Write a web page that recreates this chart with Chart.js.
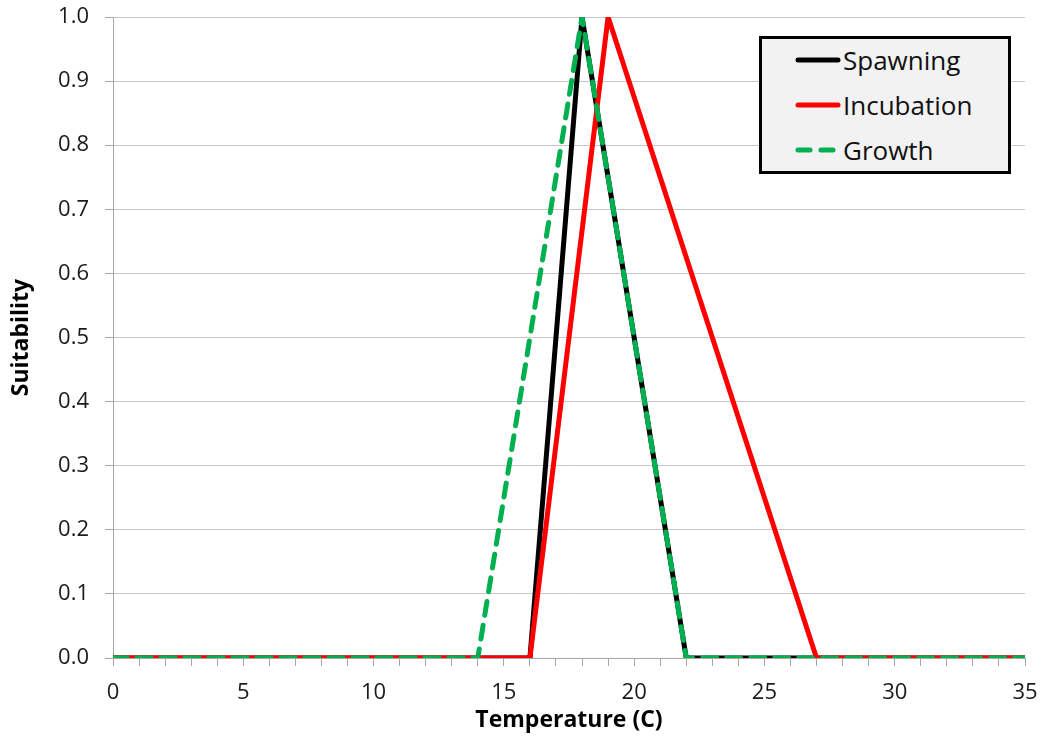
<!DOCTYPE html>
<html>
<head>
<meta charset="utf-8">
<script src="https://cdn.jsdelivr.net/npm/chart.js@4"></script>
<style>
    body { margin: 0; background: #fff; }
    #wrap { position: relative; width: 1042px; height: 744px; }
    #legend {
        position: absolute; left: 759px; top: 36px; width: 246px; height: 132px;
        background: #f2f2f2; border: 3px solid #000; box-sizing: content-box;
        font-family: 'Open Sans', sans-serif; font-size: 26px; color: #111;
    }
    .row { position: absolute; left: 33px; height: 30px; display: flex; align-items: center; }
    .row svg { margin-right: 2px; }
</style>
</head>
<body>
<div id="wrap">
    <canvas id="chart" width="1042" height="744"></canvas>
    <div id="legend"></div>
</div>
<script>
// breakpoints (temperature, suitability)
const spawningTemps = [0, 16, 18, 22, 35];
const spawningVals = [0, 0, 1, 0, 0];
const incubationTemps = [0, 16, 19, 27, 35];
const incubationVals = [0, 0, 1, 0, 0];
const growthTemps = [0, 14, 18, 22, 35];
const growthVals = [0, 0, 1, 0, 0];

const xMin = 0, xMax = 35;
const yTicks = [0, 0.1, 0.2, 0.3, 0.4, 0.5, 0.6, 0.7, 0.8, 0.9, 1.0];

const toPoints = (xs, ys) => xs.map((x, i) => ({ x, y: ys[i] }));

const datasets = [
    { label: 'Spawning', data: toPoints(spawningTemps, spawningVals), borderColor: '#000000', borderWidth: 5, order: 3 },
    { label: 'Incubation', data: toPoints(incubationTemps, incubationVals), borderColor: '#ff0000', borderWidth: 5, order: 2 },
    { label: 'Growth', data: toPoints(growthTemps, growthVals), borderColor: '#00b050', borderWidth: 5,
      borderDash: [14, 10], borderCapStyle: 'round', order: 1 }
];
datasets.forEach(d => { d.showLine = true; d.pointRadius = 0; d.tension = 0; d.fill = false; });

const font = { family: "'Open Sans', sans-serif", size: 22 };
const titleFont = { family: "'Open Sans', sans-serif", size: 23, weight: 'bold' };

new Chart(document.getElementById('chart'), {
    type: 'scatter',
    data: { datasets },
    options: {
        responsive: false,
        animation: false,
        layout: { padding: { top: 17, right: 17, left: 8, bottom: 10 } },
        plugins: { legend: { display: false }, tooltip: { enabled: false } },
        scales: {
            x: {
                type: 'linear', min: xMin, max: xMax,
                afterFit: axis => { axis.paddingLeft = 0; axis.paddingRight = 0; },
                border: { color: '#a6a6a6', width: 1 },
                grid: { drawOnChartArea: false, tickLength: 8, tickColor: '#a6a6a6' },
                ticks: {
                    stepSize: 1, autoSkip: false, maxRotation: 0, color: '#1a1a1a', font, padding: 14,
                    callback: v => (v % 5 === 0 ? v : '')
                },
                title: { display: true, text: 'Temperature (C)', color: '#000', padding: { top: -14, bottom: 0 }, font: titleFont }
            },
            y: {
                min: 0, max: 1,
                afterBuildTicks: axis => { axis.ticks = yTicks.map(v => ({ value: v })); },
                afterFit: axis => { axis.width = 105; axis.paddingTop = 0; axis.paddingBottom = 0; },
                border: { color: '#a6a6a6', width: 1 },
                grid: { color: '#c8c8c8', tickLength: 8, tickColor: '#a6a6a6' },
                ticks: { color: '#1a1a1a', font, padding: 16, callback: v => v.toFixed(1) },
                title: { display: true, text: 'Suitability', color: '#000', padding: { top: 0, bottom: 0 }, font: titleFont }
            }
        }
    }
});

// legend as html, built from the datasets
const legend = document.getElementById('legend');
legend.innerHTML = datasets.map((d, i) => {
    const dash = d.borderDash ? 'stroke-dasharray="12 11" stroke-linecap="round"' : 'stroke-linecap="round"';
    return `<div class="row" style="top:${6 + i * 45}px">
        <svg width="46" height="10"><line x1="3" y1="5" x2="43" y2="5" stroke="${d.borderColor}" stroke-width="5" ${dash}/></svg>
        <span>${d.label}</span></div>`;
}).join('');
</script>
</body>
</html>
